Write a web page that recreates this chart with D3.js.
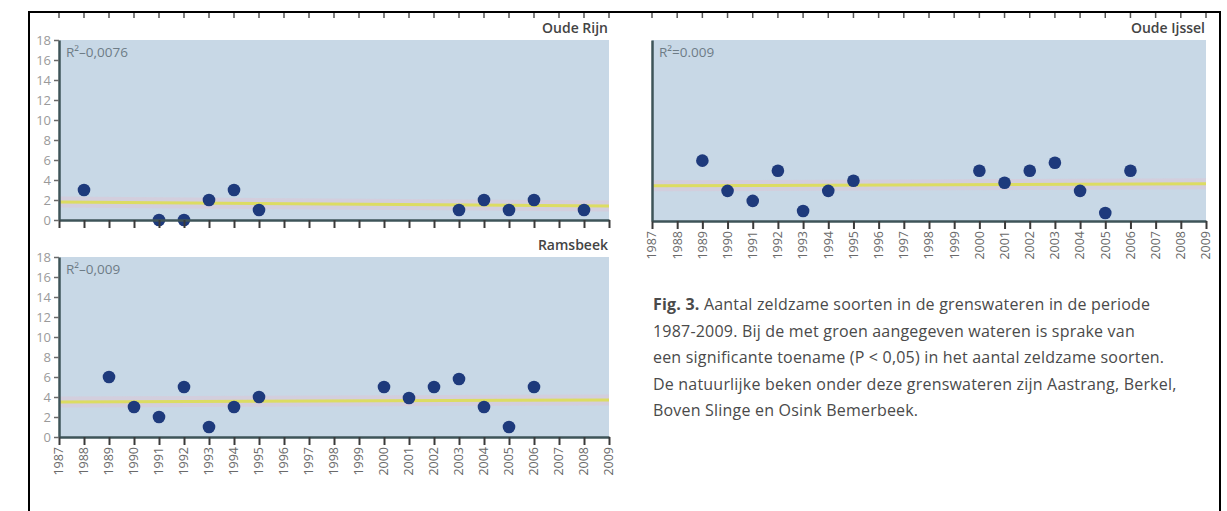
<!DOCTYPE html>
<html lang="nl">
<head>
    <meta charset="UTF-8">
    <title>Aantal zeldzame soorten in de grenswateren</title>
    <script src="https://d3js.org/d3.v7.min.js"></script>
    <style>
        body { margin: 0; background: #fff; }
        svg text { font-family: "Open Sans", "DejaVu Sans", sans-serif; }
    </style>
</head>
<body>
    <div id="chart"></div>
    <script>
        // Data
        const years = [1987, 1988, 1989, 1990, 1991, 1992, 1993, 1994, 1995, 1996, 1997, 1998,
                       1999, 2000, 2001, 2002, 2003, 2004, 2005, 2006, 2007, 2008, 2009];
        const yTicks = [0, 2, 4, 6, 8, 10, 12, 14, 16, 18];

        const oudeRijnYears = [1988, 1991, 1992, 1993, 1994, 1995, 2003, 2004, 2005, 2006, 2008];
        const oudeRijnValues = [3, 0, 0, 2, 3, 1, 1, 2, 1, 2, 1];
        const oudeRijnTrend = [1.8, 1.4];

        const ramsbeekYears = [1989, 1990, 1991, 1992, 1993, 1994, 1995, 2000, 2001, 2002, 2003, 2004, 2005, 2006];
        const ramsbeekValues = [6, 3, 2, 5, 1, 3, 4, 5, 3.9, 5, 5.8, 3, 1, 5];
        const ramsbeekTrend = [3.5, 3.7];

        const oudeIJsselYears = [1989, 1990, 1991, 1992, 1993, 1994, 1995, 2000, 2001, 2002, 2003, 2004, 2005, 2006];
        const oudeIJsselValues = [6, 3, 2, 5, 1, 3, 4, 5, 3.8, 5, 5.8, 3, 0.8, 5];
        const oudeIJsselTrend = [3.5, 3.7];

        const captionLines = [
            "Aantal zeldzame soorten in de grenswateren in de periode",
            "1987-2009. Bij de met groen aangegeven wateren is sprake van",
            "een significante toename (P < 0,05) in het aantal zeldzame soorten.",
            "De natuurlijke beken onder deze grenswateren zijn Aastrang, Berkel,",
            "Boven Slinge en Osink Bemerbeek."
        ];

        const width = 1227;
        const height = 511;

        const svg = d3.select("#chart")
            .append("svg")
            .attr("width", width)
            .attr("height", height);

        // Panels
        const panels = [
            { title: "Oude Rijn", r2: "R\u00B2\u20130,0076", x0: 59, x1: 609, top: 40, zero: 220,
              yearsData: oudeRijnYears, values: oudeRijnValues, trend: oudeRijnTrend,
              yLabels: true, xLabels: false },
            { title: "Ramsbeek", r2: "R\u00B2\u20130,009", x0: 59, x1: 609, top: 257, zero: 437,
              yearsData: ramsbeekYears, values: ramsbeekValues, trend: ramsbeekTrend,
              yLabels: true, xLabels: true },
            { title: "Oude Ijssel", r2: "R\u00B2=0.009", x0: 652, x1: 1206, top: 40, zero: 221,
              yearsData: oudeIJsselYears, values: oudeIJsselValues, trend: oudeIJsselTrend,
              yLabels: false, xLabels: true }
        ];

        const axisColor = "#3e5458";

        panels.forEach(p => {
            const x = d3.scaleLinear().domain([1987, 2009]).range([p.x0, p.x1]);
            const y = d3.scaleLinear().domain([0, 18]).range([p.zero, p.top]);
            const g = svg.append("g");

            // background
            g.append("rect")
                .attr("x", x(1987))
                .attr("y", y(18))
                .attr("width", x(2009) - x(1987))
                .attr("height", y(0) - y(18))
                .attr("fill", "#c8d8e6");

            // trend line (with faint halo)
            const tl = d3.line().x(d => x(d[0])).y(d => y(d[1]));
            const trendPts = [[1987, p.trend[0]], [2009, p.trend[1]]];
            g.append("path")
                .attr("d", tl(trendPts))
                .attr("stroke", "#dcc6d6")
                .attr("stroke-width", 11)
                .attr("opacity", 0.55)
                .attr("fill", "none");
            g.append("path")
                .attr("d", tl(trendPts))
                .attr("stroke", "#dcdc62")
                .attr("stroke-width", 3)
                .attr("fill", "none");

            // points
            g.selectAll("circle")
                .data(p.yearsData.map((yr, i) => ({ yr, v: p.values[i] })))
                .enter()
                .append("circle")
                .attr("cx", d => x(d.yr))
                .attr("cy", d => y(d.v))
                .attr("r", 6.3)
                .attr("fill", "#1e3a7c");

            // x axis
            const xAxis = g.append("g")
                .attr("transform", `translate(0,${y(0)})`)
                .call(d3.axisBottom(x).tickValues(years).tickSize(8).tickSizeOuter(0).tickFormat(""));
            xAxis.select(".domain").attr("stroke", axisColor).attr("stroke-width", 2.5);
            xAxis.selectAll(".tick line").attr("stroke", "#3a3a3a").attr("stroke-width", 2);

            if (p.xLabels) {
                g.selectAll(".yearLabel")
                    .data(years)
                    .enter()
                    .append("text")
                    .attr("class", "yearLabel")
                    .attr("transform", d => `translate(${x(d)},${y(0) + 10}) rotate(-90)`)
                    .attr("text-anchor", "end")
                    .attr("dy", "0.35em")
                    .attr("font-size", 12.5)
                    .attr("fill", "#6a6a6a")
                    .text(d => d);
            }

            // y axis
            const yAxis = g.append("g")
                .attr("transform", `translate(${x(1987)},0)`)
                .call(d3.axisLeft(y).tickValues(p.yLabels ? yTicks : []).tickSize(5).tickSizeOuter(0).tickPadding(3));
            yAxis.select(".domain").attr("stroke", axisColor).attr("stroke-width", 2.5);
            yAxis.selectAll(".tick line").attr("stroke", "#6a6a6a").attr("stroke-width", 1.5);
            yAxis.selectAll(".tick text")
                .attr("fill", "#9a9a9a")
                .attr("font-size", 13)
                .style("font-family", "'Open Sans', sans-serif");

            // labels
            g.append("text")
                .attr("x", x(2009) - 1)
                .attr("y", y(18) - 7)
                .attr("text-anchor", "end")
                .attr("font-size", 14)
                .attr("font-weight", 600)
                .attr("fill", "#444")
                .text(p.title);

            g.append("text")
                .attr("x", x(1987) + 7)
                .attr("y", y(18) + 17)
                .attr("font-size", 13.5)
                .attr("fill", "#6e7c86")
                .text(p.r2);
        });

        // remnant ticks of the axes above the cut
        [[59, 609], [652, 1206]].forEach(([a, b]) => {
            const x = d3.scaleLinear().domain([1987, 2009]).range([a, b]);
            svg.append("g").selectAll("line")
                .data(years)
                .enter()
                .append("line")
                .attr("x1", d => x(d)).attr("x2", d => x(d))
                .attr("y1", 12).attr("y2", 18)
                .attr("stroke", "#555")
                .attr("stroke-width", 1.5);
        });

        // caption
        const cap = svg.append("text")
            .attr("x", 653)
            .attr("y", 310)
            .attr("font-size", 16)
            .attr("letter-spacing", 0.2)
            .attr("fill", "#4a4a4a");
        captionLines.forEach((line, i) => {
            const ts = cap.append("tspan")
                .attr("x", 653)
                .attr("dy", i === 0 ? 0 : 26.5);
            if (i === 0) {
                ts.append("tspan").attr("font-weight", 700).text("Fig. 3. ");
            }
            ts.append("tspan").text(line);
        });

        // frame
        svg.append("path")
            .attr("d", "M29,511 V12 H1220 V511")
            .attr("fill", "none")
            .attr("stroke", "#000")
            .attr("stroke-width", 2);
    </script>
</body>
</html>
